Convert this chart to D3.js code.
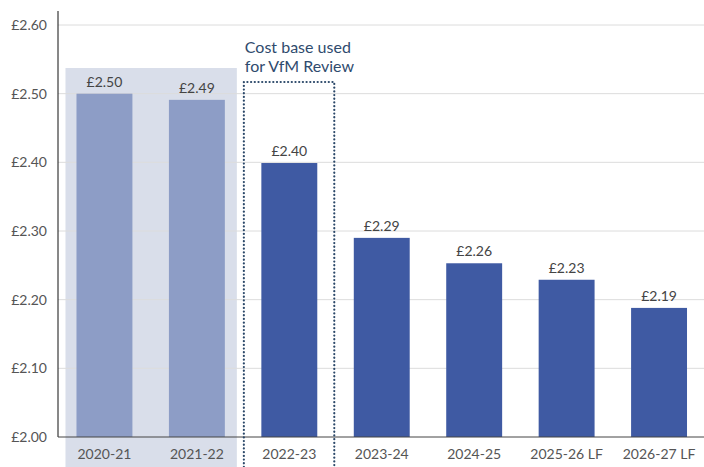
<!DOCTYPE html>
<html><head><meta charset="utf-8">
<script src="https://cdn.jsdelivr.net/npm/d3@7"></script>
<style>body{margin:0;background:#fff;}svg{display:block;font-family:Lato,"Open Sans",sans-serif;}</style>
</head><body><svg id="c" width="704" height="467"></svg>
<script>
const categories = ["2020-21","2021-22","2022-23","2023-24","2024-25","2025-26 LF","2026-27 LF"];
const values = [2.50, 2.491, 2.399, 2.29, 2.253, 2.229, 2.188];
const valueLabels = ["£2.50","£2.49","£2.40","£2.29","£2.26","£2.23","£2.19"];
const historic = ["2020-21","2021-22"];
const costBase = ["2022-23"];
const yTicks = [2.0,2.1,2.2,2.3,2.4,2.5,2.6];
const annotation = ["Cost base used","for VfM Review"];

const svg = d3.select("#c");
const x = d3.scaleBand().domain(categories).range([58,705.5]).paddingInner(0.395).paddingOuter(0.2);
const y = d3.scaleLinear().domain([2.0,2.6]).range([437,25]);

// shaded historic region
const hx0 = x(historic[0]) - 11;
const hx1 = x(historic[historic.length-1]) + x.bandwidth() + 12;
svg.append("rect").attr("x",hx0).attr("y",68).attr("width",hx1-hx0).attr("height",467-68).attr("fill","#d9deea");

// gridlines
svg.append("g").selectAll("line").data(yTicks.filter(d=>d>2.0)).join("line")
  .attr("x1",58).attr("x2",704).attr("y1",d=>y(d)).attr("y2",d=>y(d))
  .attr("stroke","#dcdcdc").attr("stroke-width",1);

// bars
svg.append("g").selectAll("rect").data(categories).join("rect")
  .attr("x",d=>x(d)).attr("width",x.bandwidth())
  .attr("y",(d,i)=>y(values[i])).attr("height",(d,i)=>y(2.0)-y(values[i]))
  .attr("fill",d=>historic.includes(d)?"#8d9dc6":"#3f5aa3");

// value labels
svg.append("g").selectAll("text").data(categories).join("text")
  .attr("x",d=>x(d)+x.bandwidth()/2).attr("y",(d,i)=>y(values[i])-7)
  .attr("text-anchor","middle").attr("font-size",14).attr("fill","#444")
  .text((d,i)=>valueLabels[i]);

// y axis
const yAxis = svg.append("g").attr("transform","translate(58,0)")
  .call(d3.axisLeft(y).tickValues(yTicks).tickSize(0).tickPadding(11).tickFormat(d=>"£"+d3.format(".2f")(d)));
yAxis.select(".domain").attr("stroke","#111").attr("d","M0,11V437");
yAxis.selectAll("text").attr("font-size",14).attr("fill","#555").attr("font-family","Lato,sans-serif");

// x axis
const xAxis = svg.append("g").attr("transform","translate(0,437)")
  .call(d3.axisBottom(x).tickSize(0).tickPadding(12));
xAxis.select(".domain").attr("stroke","#444").attr("d","M58,0H704");
xAxis.selectAll("text").attr("font-size",14).attr("fill","#555").attr("font-family","Lato,sans-serif");

// dotted cost-base box
const bx0 = x(costBase[0]) - 17.5, bx1 = x(costBase[0]) + x.bandwidth() + 17;
svg.append("path").attr("d",`M${bx0},467V82H${bx1}V467`)
  .attr("fill","none").attr("stroke","#2b4869").attr("stroke-width",2.2)
  .attr("stroke-dasharray","0.1 3.6").attr("stroke-linecap","round");

svg.append("g").selectAll("text").data(annotation).join("text")
  .attr("x",bx0+1).attr("y",(d,i)=>53+i*19).attr("font-size",16).attr("fill","#2f4b6e")
  .text(d=>d);
</script></body></html>
